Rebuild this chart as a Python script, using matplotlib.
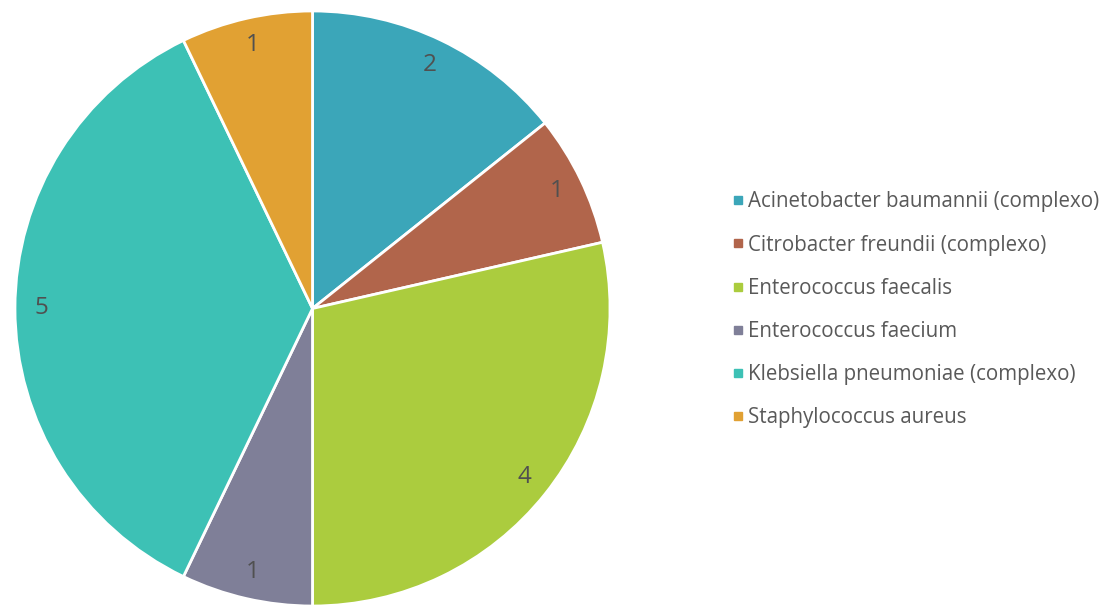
import matplotlib.pyplot as plt
from matplotlib.lines import Line2D

species = ["Acinetobacter baumannii (complexo)", "Citrobacter freundii (complexo)",
           "Enterococcus faecalis", "Enterococcus faecium",
           "Klebsiella pneumoniae (complexo)", "Staphylococcus aureus"]
counts = [2, 1, 4, 1, 5, 1]
colors = ["#3ba6b9", "#b1654b", "#abcc3e", "#7f7f98", "#3dc1b5", "#e1a133"]

fig = plt.figure(figsize=(11.15, 6.12), dpi=100)
ax = fig.add_axes([12 / 1115, 3 / 612, 601 / 1115, 601 / 612])

wedges, texts = ax.pie(counts, colors=colors, startangle=90, counterclock=False,
                       radius=1, labels=[str(c) for c in counts], labeldistance=0.91,
                       wedgeprops=dict(edgecolor="white", linewidth=2))
for t in texts:
    t.set_fontsize(17.5)
    t.set_color("#505050")
    t.set_fontfamily("Open Sans")
    t.set_horizontalalignment("center")
    t.set_verticalalignment("center")
ax.set_xlim(-1.01, 1.01)
ax.set_ylim(-1.01, 1.01)
ax.set_aspect("equal")

# legend with small square markers
handles = [Line2D([], [], marker="s", linestyle="none", markersize=6,
                  markerfacecolor=c, markeredgecolor=c) for c in colors]
leg = fig.legend(handles, species, loc="center left", bbox_to_anchor=(713 / 1115, 0.4935),
                 frameon=False, handletextpad=0.2, labelspacing=1.08,
                 prop=dict(family="Open Sans", size=14.8), handlelength=0.6)
for t in leg.get_texts():
    t.set_color("#595959")

fig.savefig("out.png", dpi=100)
